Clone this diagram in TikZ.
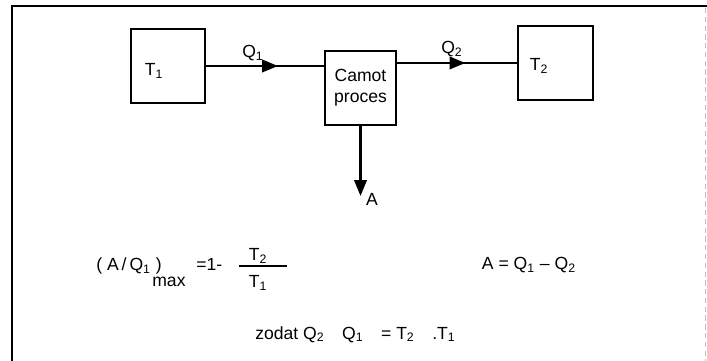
\documentclass[tikz,border=0pt]{standalone}
\usepackage{fontspec}
\setmainfont{Liberation Sans}
\usetikzlibrary{arrows.meta,decorations.markings}
\tikzset{
  blok/.style={draw,line width=1.1pt,inner sep=0pt},
  stroom/.style={line width=1.4pt},
  pijl/.style={postaction={decorate},decoration={markings,
    mark=at position #1 with {\arrow{Triangle[length=9pt,width=7pt]}}}},
  tekst/.style={anchor=base west,inner sep=0pt},
}
\begin{document}
\begin{tikzpicture}[x=0.02cm,y=-0.02cm]
  \useasboundingbox (0,0) rectangle (707,361);
  \draw[line width=1.4pt] (12,361) -- (12,6) -- (707,6);
  \draw[gray!50,densely dashed,line width=0.4pt] (705,8) -- (705,361);
  \node[blok,minimum width=1.48cm,minimum height=1.48cm] (t1) at (168,66) {};
  \node[blok,minimum width=1.42cm,minimum height=1.48cm,align=center] (carnot) at (360.5,88) {Camot\\proces};
  \node[blok,minimum width=1.5cm,minimum height=1.48cm] (t2) at (555.5,63) {};
  \node (t1txt) at (154,71) {T\textsubscript{1}};
  \node (t2txt) at (539,66) {T\textsubscript{2}};
  \coordinate (aend) at (360,196);
  \draw[stroom,pijl=0.61] (t1.east) -- (t1.east -| carnot.west);
  \draw[stroom,pijl=0.57] (t2.west -| carnot.east) -- (t2.west);
  \draw[stroom,-{Triangle[length=9pt,width=7pt]}] (carnot.south) -- (carnot.south |- aend);
  \node (q1) at (253,53) {Q\textsubscript{1}};
  \node (q2) at (452,49) {Q\textsubscript{2}};
  \node[right,inner sep=1pt] (a) at (364,199) {A};
  \node[tekst] (aq) at (96,271) {( A\,/\,Q\textsubscript{1} )};
  \node[tekst] (max) at (152,287) {max};
  \node[tekst] (een) at (196,271) {=1-};
  \coordinate (bl) at (239,266);
  \coordinate (br) at (287,266);
  \draw[line width=1pt] (bl) -- (br);
  \node (teller) at (258,256) {T\textsubscript{2}};
  \node (noemer) at (258,283) {T\textsubscript{1}};
  \node (verschil) at (529,265) {A = Q\textsubscript{1} -- Q\textsubscript{2}};
  \node[tekst] (zodat) at (255,339) {zodat Q\textsubscript{2}\quad Q\textsubscript{1}\quad = T\textsubscript{2}\quad .T\textsubscript{1}};
\end{tikzpicture}
\end{document}
